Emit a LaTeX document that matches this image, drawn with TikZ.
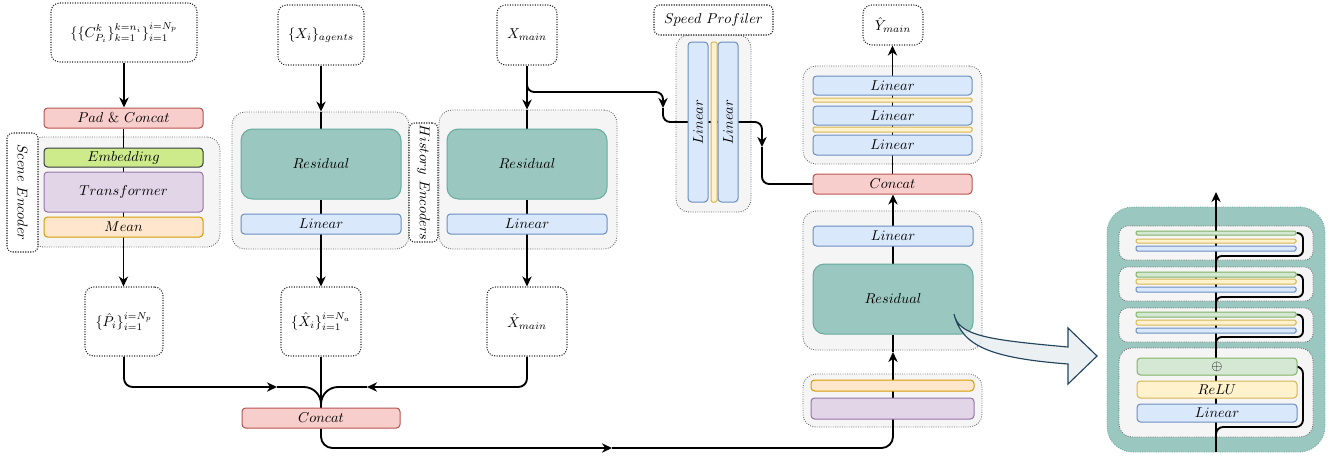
\documentclass[tikz,border=0pt]{standalone}
\usetikzlibrary{arrows.meta}
\pgfdeclarelayer{back}\pgfdeclarelayer{bg}\pgfdeclarelayer{fg}
\pgfsetlayers{back,bg,main,fg}
\definecolor{cgray}{HTML}{F5F5F5}\definecolor{cgrayd}{HTML}{666666}
\definecolor{credf}{HTML}{F8CECC}\definecolor{credd}{HTML}{B85450}
\definecolor{cembf}{HTML}{CDEB8B}\definecolor{cembd}{HTML}{36393D}
\definecolor{cpurf}{HTML}{E1D5E7}\definecolor{cpurd}{HTML}{9673A6}
\definecolor{coraf}{HTML}{FFE6CC}\definecolor{corad}{HTML}{D79B00}
\definecolor{cbluf}{HTML}{DAE8FC}\definecolor{cblud}{HTML}{6C8EBF}
\definecolor{ctelf}{HTML}{9AC7BF}\definecolor{cteld}{HTML}{67AB9F}
\definecolor{cyelf}{HTML}{FFF2CC}\definecolor{cyeld}{HTML}{D6B656}
\definecolor{cgrnf}{HTML}{D5E8D4}\definecolor{cgrnd}{HTML}{82B366}
\definecolor{carrf}{HTML}{E8EDF1}\definecolor{carrd}{HTML}{23445D}
\tikzset{
 blk/.style={draw, solid, line width=0.7pt, inner sep=0pt, rounded corners=2.5pt},
 redb/.style={blk, fill=credf, draw=credd},
 embb/.style={blk, fill=cembf, draw=cembd},
 purb/.style={blk, fill=cpurf, draw=cpurd},
 orab/.style={blk, fill=coraf, draw=corad},
 blub/.style={blk, fill=cbluf, draw=cblud},
 resb/.style={blk, fill=ctelf, draw=cteld, rounded corners=8pt},
 yelb/.style={blk, fill=cyelf, draw=cyeld},
 grnb/.style={blk, fill=cgrnf, draw=cgrnd},
 strip/.style={rounded corners=1pt},
 wbox/.style={draw=black!85, densely dotted, line width=0.75pt, fill=white, rounded corners=6pt, inner sep=0pt},
 gbox/.style={draw=cgrayd, densely dotted, line width=0.6pt, fill=cgray, rounded corners=9pt, inner sep=0pt},
 tealc/.style={fill=ctelf, draw=cteld, densely dotted, line width=0.6pt, rounded corners=18pt, inner sep=0pt},
 ln/.style={line width=1.3pt},
 arr/.style={line width=1.3pt, -{Stealth[length=7pt,width=6.5pt,inset=2.2pt]}},
}
\newcommand{\mybox}[8][]{\node[#2,minimum width={(#5-#3)*0.7pt},minimum height={(#6-#4)*0.7pt},#1] (#7) at ({(#3+#5)/2},{(#4+#6)/2}) {#8};}
\begin{document}
\begin{tikzpicture}[x=0.7pt,y=-0.7pt]
\useasboundingbox (0,0) rectangle (1337,456);
\begin{pgfonlayer}{back}
\mybox{tealc}{1107}{207}{1325}{452}{tp}{}
\end{pgfonlayer}
\begin{pgfonlayer}{bg}
\mybox{gbox}{30}{137}{220}{247}{sc}{}
\mybox{gbox}{232}{112}{409}{249}{h1}{}
\mybox{gbox}{439}{110}{617}{249}{h2}{}
\mybox{gbox}{676}{35}{751}{212}{spc}{}
\mybox{gbox}{803}{66}{982}{164}{oc}{}
\mybox{gbox}{803}{211}{982}{350}{mc}{}
\mybox{gbox}{803}{374}{982}{427}{bc}{}
\mybox[rounded corners=6pt]{gbox}{1119}{226}{1313}{260}{t1}{}
\mybox[rounded corners=6pt]{gbox}{1119}{267}{1313}{301}{t2}{}
\mybox[rounded corners=6pt]{gbox}{1119}{308}{1313}{342}{t3}{}
\mybox[rounded corners=9pt]{gbox}{1119}{348}{1313}{437}{t4}{}
\end{pgfonlayer}
\begin{pgfonlayer}{fg}
% white boxes
\mybox{wbox}{51}{3}{197}{62}{in1}{$\{\{C^{k}_{P_i}\}_{k=1}^{k=n_i}\}_{i=1}^{i=N_p}$}
\mybox{wbox}{278}{5}{364}{65}{in2}{$\{X_i\}_{agents}$}
\mybox{wbox}{497}{5}{557}{65}{in3}{$X_{main}$}
\mybox{wbox}{85}{287}{163}{356}{ph}{$\{\hat{P}_i\}_{i=1}^{i=N_p}$}
\mybox{wbox}{281}{287}{361}{356}{xh}{$\{\hat{X}_i\}_{i=1}^{i=N_a}$}
\mybox{wbox}{487}{287}{567}{356}{xmh}{$\hat{X}_{main}$}
\mybox{wbox}{863}{5}{923}{45}{yh}{$\hat{Y}_{main}$}
\mybox[rounded corners=4pt]{wbox}{654}{5}{773}{35}{spl}{$Speed\ Profiler$}
\mybox[rounded corners=4pt]{wbox}{7}{133}{38}{252}{scl}{}
\node[rotate=-90] (sclt) at (scl) {$Scene\ Encoder$};
\mybox[rounded corners=4pt]{wbox}{409}{123}{438}{242}{hel}{}
\node[rotate=-90] (helt) at (hel) {$History\ Encoders$};
% scene encoder
\mybox{redb}{44}{108}{203}{128}{pad}{$Pad\ \&\ Concat$}
\mybox{embb}{44}{148}{203}{167}{emb}{$Embedding$}
\mybox{purb}{44}{172}{203}{212}{trf}{$Transformer$}
\mybox{orab}{44}{217}{203}{237}{mean}{$Mean$}
% history encoders
\mybox{resb}{241}{129}{401}{199}{res1}{$Residual$}
\mybox{blub}{241}{214}{401}{234}{lin1}{$Linear$}
\mybox{resb}{447}{129}{607}{199}{res2}{$Residual$}
\mybox{blub}{447}{214}{607}{234}{lin2}{$Linear$}
\mybox{redb}{242}{408}{400}{428}{cat1}{$Concat$}
% speed profiler
\mybox{blub}{688}{42}{708}{202}{sp1}{}
\node[rotate=90] (sp1t) at (sp1) {$Linear$};
\mybox[strip]{yelb}{711}{42}{717}{202}{spy}{}
\mybox{blub}{718}{42}{738}{202}{sp2}{}
\node[rotate=90] (sp2t) at (sp2) {$Linear$};
% output MLP
\mybox{blub}{813}{76}{972}{95}{oa}{$Linear$}
\mybox[strip]{yelb}{813}{98}{972}{102}{oy1}{}
\mybox{blub}{813}{106}{972}{125}{ob}{$Linear$}
\mybox[strip]{yelb}{813}{127}{972}{132}{oy2}{}
\mybox{blub}{813}{135}{972}{155}{occ}{$Linear$}
\mybox{redb}{813}{174}{972}{194}{cat2}{$Concat$}
\mybox{blub}{813}{226}{973}{246}{ml}{$Linear$}
\mybox{resb}{813}{264}{973}{334}{mres}{$Residual$}
\mybox{orab}{811}{380}{974}{391}{bo}{}
\mybox{purb}{811}{398}{974}{419}{bp}{}
% residual detail
\mybox[strip]{grnb}{1136}{231}{1296}{235}{s1g}{}
\mybox[strip]{yelb}{1136}{239}{1296}{243}{s1y}{}
\mybox[strip]{blub}{1136}{246}{1296}{251}{s1b}{}
\mybox[strip]{grnb}{1136}{272}{1296}{277}{s2g}{}
\mybox[strip]{yelb}{1136}{279}{1296}{284}{s2y}{}
\mybox[strip]{blub}{1136}{287}{1296}{292}{s2b}{}
\mybox[strip]{grnb}{1136}{312}{1296}{317}{s3g}{}
\mybox[strip]{yelb}{1136}{320}{1296}{325}{s3y}{}
\mybox[strip]{blub}{1136}{328}{1296}{333}{s3b}{}
\mybox{grnb}{1137}{358}{1297}{375}{s4g}{$\oplus$}
\mybox{yelb}{1137}{381}{1297}{398}{s4y}{$ReLU$}
\mybox{blub}{1137}{404}{1297}{422}{s4b}{$Linear$}
% big curved arrow
\draw[draw=carrd, fill=carrf, fill opacity=0.85, line width=0.8pt, line join=miter]
 (954,314) .. controls (958,336) and (990,340) .. (1068,347) -- (1068,328) -- (1097,356)
 -- (1068,384) -- (1068,364) .. controls (990,358) and (962,346) .. (954,314) -- cycle;
\end{pgfonlayer}
% ---------- connectors ----------
\draw[arr] (in1.south) -- (in1.south |- pad.north);
\draw[arr] (pad.south) -- (pad.south |- ph.north);
\draw[arr] (in2.south) -- (in2.south |- h1.north);
\draw[ln] (in2.south |- h1.north) -- (in2.south |- res1.north);
\draw[arr] (res1.south) -- (res1.south |- xh.north);
\draw[arr] (in3.south) -- (in3.south |- h2.north);
\draw[ln] (in3.south |- h2.north) -- (in3.south |- res2.north);
\draw[arr] (res2.south) -- (res2.south |- xmh.north);
% speed branch
\coordinate (br) at (527,80);
\coordinate (m1) at (663,108);
\coordinate (m2) at (762,147);
\draw[arr, rounded corners=5pt] (br) |- (663,92) -- (m1);
\draw[arr, rounded corners=5pt] (m1) -- (663,122) -- (762,122) -- (m2);
\draw[ln, rounded corners=5pt] (m2) |- (cat2.west);
% output path
\draw[arr] (cat2.north) -- (cat2.north |- yh.south);
\draw[arr] (mres.north) -- (mres.north |- cat2.south);
% merge into concat
\coordinate (m5) at (277,387);
\coordinate (m6) at (367,387);
\draw[arr, rounded corners=6pt] (ph.south) |- (m5);
\draw[ln, rounded corners=12pt] (m5) -| (cat1.north);
\draw[arr, rounded corners=6pt] (xmh.south) |- (m6);
\draw[ln, rounded corners=12pt] (m6) -| (cat1.north);
\draw[ln] (xh.south) -- (xh.south |- cat1.north);
% bottom path
\coordinate (m3) at (612,448);
\coordinate (m4) at (893,352);
\draw[arr, rounded corners=8pt] (cat1.south) |- (m3);
\draw[arr, rounded corners=8pt] (m3) -| (m4);
\draw[ln] (m4) -- (m4 |- mres.south);
% residual detail connectors
\coordinate (tb) at (1216,452);
\coordinate (tt) at (1216,192);
\draw[arr] (tb) -- (tt);
\coordinate (k1) at (1216,264);
\coordinate (k2) at (1216,305);
\coordinate (k3) at (1216,345);
\coordinate (k4) at (1216,440);
\draw[ln, rounded corners=4pt] (k1) |- (1303,256) |- (s1g.east);
\draw[ln, rounded corners=4pt] (k2) |- (1303,297) |- (s2g.east);
\draw[ln, rounded corners=4pt] (k3) |- (1303,337) |- (s3g.east);
\draw[ln, rounded corners=5pt] (k4) |- (1303,427) |- (s4g.east);
\end{tikzpicture}
\end{document}
